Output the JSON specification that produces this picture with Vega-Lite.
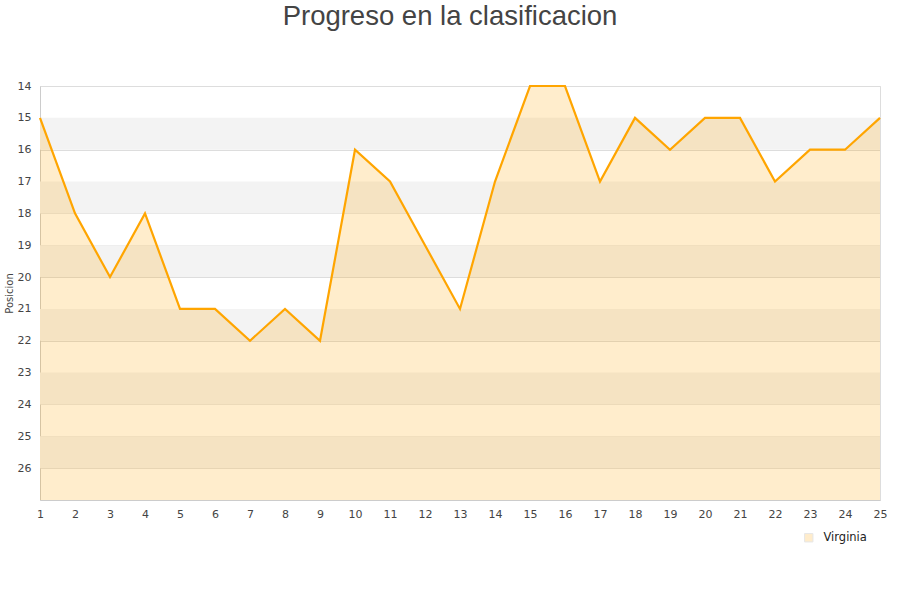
{
  "$schema": "https://vega.github.io/schema/vega-lite/v6.json",
  "width": 840,
  "height": 414,
  "autosize": "none",
  "padding": {"left": 40, "top": 86, "right": 20, "bottom": 100},
  "background": "white",
  "config": {
    "font": "Liberation Sans",
    "view": {"stroke": "#dddddd"},
    "axis": {"labelOverlap": false}
  },
  "title": {
    "text": "Progreso en la clasificacion",
    "fontSize": 27.5,
    "fontWeight": "normal",
    "color": "#444444",
    "font": "Liberation Sans",
    "anchor": "middle",
    "dx": -10,
    "offset": 50
  },
  "datasets": {
    "bands": [
      {"from": 15, "to": 16},
      {"from": 17, "to": 18},
      {"from": 19, "to": 20},
      {"from": 21, "to": 22},
      {"from": 23, "to": 24},
      {"from": 25, "to": 26}
    ],
    "pos": [
      {"jornada": 1, "posicion": 15, "equipo": "Virginia"},
      {"jornada": 2, "posicion": 18, "equipo": "Virginia"},
      {"jornada": 3, "posicion": 20, "equipo": "Virginia"},
      {"jornada": 4, "posicion": 18, "equipo": "Virginia"},
      {"jornada": 5, "posicion": 21, "equipo": "Virginia"},
      {"jornada": 6, "posicion": 21, "equipo": "Virginia"},
      {"jornada": 7, "posicion": 22, "equipo": "Virginia"},
      {"jornada": 8, "posicion": 21, "equipo": "Virginia"},
      {"jornada": 9, "posicion": 22, "equipo": "Virginia"},
      {"jornada": 10, "posicion": 16, "equipo": "Virginia"},
      {"jornada": 11, "posicion": 17, "equipo": "Virginia"},
      {"jornada": 12, "posicion": 19, "equipo": "Virginia"},
      {"jornada": 13, "posicion": 21, "equipo": "Virginia"},
      {"jornada": 14, "posicion": 17, "equipo": "Virginia"},
      {"jornada": 15, "posicion": 14, "equipo": "Virginia"},
      {"jornada": 16, "posicion": 14, "equipo": "Virginia"},
      {"jornada": 17, "posicion": 17, "equipo": "Virginia"},
      {"jornada": 18, "posicion": 15, "equipo": "Virginia"},
      {"jornada": 19, "posicion": 16, "equipo": "Virginia"},
      {"jornada": 20, "posicion": 15, "equipo": "Virginia"},
      {"jornada": 21, "posicion": 15, "equipo": "Virginia"},
      {"jornada": 22, "posicion": 17, "equipo": "Virginia"},
      {"jornada": 23, "posicion": 16, "equipo": "Virginia"},
      {"jornada": 24, "posicion": 16, "equipo": "Virginia"},
      {"jornada": 25, "posicion": 15, "equipo": "Virginia"}
    ]
  },
  "layer": [
    {
      "data": {"name": "bands"},
      "mark": {"type": "rect", "fill": "#f3f3f3"},
      "encoding": {
        "y": {
          "field": "from", "type": "quantitative",
          "scale": {"domain": [14, 27], "reverse": true, "nice": false, "zero": false},
          "axis": {
            "title": "Posicion", "titleFontSize": 10, "titleFontWeight": "normal", "titleColor": "#444444", "titleFont": "DejaVu Sans", "titlePadding": 3,
            "values": [14,15,16,17,18,19,20,21,22,23,24,25,26], "tickCount": 13,
            "grid": true, "gridColor": "#dddddd", "ticks": false, "domain": true, "domainColor": "#cccccc",
            "labelFontSize": 11, "labelColor": "#444444", "labelPadding": 9, "labelFont": "DejaVu Sans", "labelOverlap": false
          }
        },
        "y2": {"field": "to"}
      }
    },
    {
      "data": {"name": "pos"},
      "mark": {"type": "area", "opacity": 0.2, "interpolate": "linear"},
      "encoding": {
        "x": {
          "field": "jornada", "type": "quantitative",
          "scale": {"domain": [1, 25], "nice": false, "zero": false},
          "axis": {
            "title": null, "values": [1,2,3,4,5,6,7,8,9,10,11,12,13,14,15,16,17,18,19,20,21,22,23,24,25], "tickCount": 25,
            "grid": false, "ticks": false, "domain": true, "domainColor": "#cccccc", "labelOverlap": false, "labelFlush": false,
            "labelFontSize": 11, "labelColor": "#444444", "labelPadding": 8, "labelFont": "DejaVu Sans"
          }
        },
        "y": {"field": "posicion", "type": "quantitative"},
        "y2": {"datum": 27},
        "color": {
          "field": "equipo", "type": "nominal",
          "scale": {"range": ["#ffa500"]},
          "legend": {
            "title": null, "orient": "none", "legendX": 763, "legendY": 446,
            "symbolType": "square", "symbolSize": 70, "labelOffset": 9,
            "symbolStrokeColor": "#888888", "symbolStrokeWidth": 1,
            "labelFontSize": 11.5, "labelColor": "#222222", "labelFont": "DejaVu Sans",
            "encode": {"symbols": {"update": {"fill": {"value": "#ffedcc"}, "stroke": {"value": "#888888"}, "strokeWidth": {"value": 1}, "opacity": {"value": 1}, "fillOpacity": {"value": 1}, "strokeOpacity": {"value": 1}}}}
          }
        }
      }
    },
    {
      "data": {"name": "pos"},
      "mark": {"type": "line", "color": "#ffa500", "strokeWidth": 2.2, "interpolate": "linear"},
      "encoding": {
        "x": {"field": "jornada", "type": "quantitative"},
        "y": {"field": "posicion", "type": "quantitative"}
      }
    }
  ]
}
